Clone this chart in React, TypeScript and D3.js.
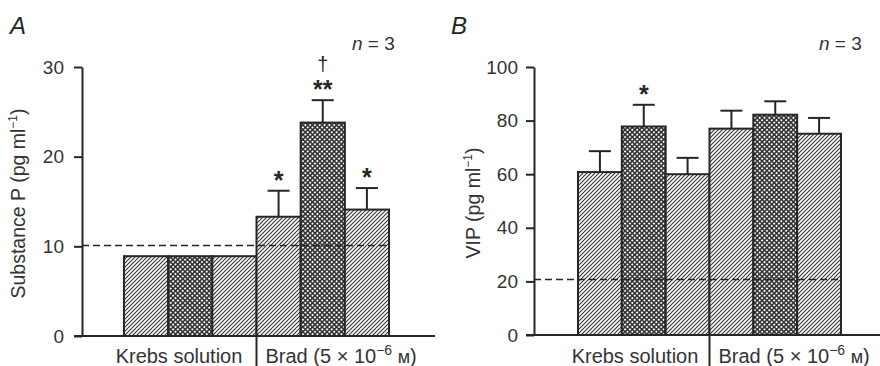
import React, { FC } from 'react';
import * as d3 from 'd3';

// shared categories
const groupLabels = ['Krebs solution', 'Brad'];
const barPatterns = ['hatch', 'check', 'hatch', 'hatch', 'check', 'hatch'];

// panel A: substance P (pg/ml)
const spValues = [8.9, 8.9, 8.9, 13.3, 23.8, 14.1];
const spErrors = [0, 0, 0, 2.9, 2.5, 2.4];
const spStars = ['', '', '', '*', '**', '*'];
const spDaggers = ['', '', '', '', '†', ''];
const spTicks = [0, 10, 20, 30];
const spBaseline = 10.1;

// panel B: VIP (pg/ml)
const vipValues = [60.8, 77.8, 60.0, 77.0, 82.2, 75.1];
const vipErrors = [7.8, 8.1, 6.1, 6.7, 5.0, 5.9];
const vipStars = ['', '*', '', '', '', ''];
const vipDaggers = ['', '', '', '', '', ''];
const vipTicks = [0, 20, 40, 60, 80, 100];
const vipBaseline = 20.7;

const INK = '#262626';
const TXT = '#333';
const FONT = '"Liberation Sans", Arial, sans-serif';

interface PanelCfg {
  letter: string;
  letterX: number;
  axisX: number;
  y0: number;
  yTop: number;
  max: number;
  barsX: [number, number];
  lineX: [number, number];
  values: number[];
  errors: number[];
  stars: string[];
  daggers: string[];
  ticks: number[];
  baseline: number;
  label: string;
  labelX: number;
  nX: number;
  krebsX: number;
  tickPad: number;
  tickSize: number;
}

const drawPanel = (svg: d3.Selection<SVGSVGElement, undefined, null, undefined>, c: PanelCfg) => {
  const g = svg.append('g');
  const idx = d3.range(c.values.length).map(String);

  const x = d3.scaleBand().domain(idx).range(c.barsX).paddingInner(0);
  const y = d3.scaleLinear().domain([0, c.max]).range([c.y0, c.yTop]);

  // bars
  g.append('g')
    .selectAll('rect')
    .data(c.values)
    .join('rect')
    .attr('x', (d, i) => x(String(i))!)
    .attr('y', (d) => y(d))
    .attr('width', x.bandwidth())
    .attr('height', (d) => y(0) - y(d))
    .attr('fill', (d, i) => `url(#${barPatterns[i]})`)
    .attr('stroke', INK)
    .attr('stroke-width', 2);

  // error bars
  const eb = g.append('g').attr('stroke', INK).attr('stroke-width', 2);
  c.values.forEach((v, i) => {
    if (!c.errors[i]) return;
    const cx = x(String(i))! + x.bandwidth() / 2;
    eb.append('line').attr('x1', cx).attr('x2', cx).attr('y1', y(v)).attr('y2', y(v + c.errors[i]));
    eb.append('line').attr('x1', cx - 11).attr('x2', cx + 11)
      .attr('y1', y(v + c.errors[i])).attr('y2', y(v + c.errors[i]));
  });

  // significance marks
  c.values.forEach((v, i) => {
    const cx = x(String(i))! + x.bandwidth() / 2;
    const top = y(v + c.errors[i]);
    if (c.stars[i]) {
      g.append('text').attr('x', cx).attr('y', top - 2).attr('text-anchor', 'middle')
        .attr('font-size', 25).attr('font-weight', 'bold').attr('fill', INK).text(c.stars[i]);
    }
    if (c.daggers[i]) {
      g.append('text').attr('x', cx).attr('y', top - 29).attr('text-anchor', 'middle')
        .attr('font-size', 20).attr('fill', INK).text(c.daggers[i]);
    }
  });

  // dashed control level
  g.append('line')
    .attr('x1', c.lineX[0]).attr('x2', c.lineX[1])
    .attr('y1', y(c.baseline)).attr('y2', y(c.baseline))
    .attr('stroke', INK).attr('stroke-width', 1.6).attr('stroke-dasharray', '7,4');

  // y axis
  g.append('g')
    .attr('transform', `translate(${c.axisX},0)`)
    .call(d3.axisLeft(y).tickValues(c.ticks).tickSize(c.tickSize).tickSizeOuter(0).tickPadding(c.tickPad))
    .call((a) => a.selectAll('path,line').attr('stroke', INK).attr('stroke-width', 2))
    .call((a) => a.selectAll('text').attr('font-size', 19).attr('font-family', FONT).attr('fill', TXT));

  // x baseline + divider
  g.append('line').attr('x1', c.axisX - c.tickSize).attr('x2', c.lineX[1] + 46)
    .attr('y1', c.y0).attr('y2', c.y0).attr('stroke', INK).attr('stroke-width', 2);
  const mid = x('3')!;
  g.append('line').attr('x1', mid).attr('x2', mid).attr('y1', c.y0).attr('y2', 366)
    .attr('stroke', INK).attr('stroke-width', 2);

  // group labels
  const gl = g.append('g').attr('font-size', 20).attr('fill', TXT);
  gl.append('text').attr('x', c.krebsX).attr('y', 363).attr('text-anchor', 'middle').text(groupLabels[0]);
  const brad = gl.append('text').attr('x', mid + 9).attr('y', 363);
  brad.append('tspan').text(`${groupLabels[1]} (5 × 10`);
  brad.append('tspan').attr('font-size', 14).attr('dy', -8).text('−6');
  brad.append('tspan').attr('dy', 8).text(' ');
  brad.append('tspan').attr('font-size', 18).text('м');
  brad.append('tspan').text(')');

  // y label
  const yl = g.append('text')
    .attr('transform', `translate(${c.labelX},${(c.y0 + c.yTop) / 2 + 2}) rotate(-90)`)
    .attr('text-anchor', 'middle').attr('font-size', 19.5).attr('fill', TXT);
  yl.append('tspan').text(`${c.label} (pg ml`);
  yl.append('tspan').attr('font-size', 12).attr('dy', -8).text('−1');
  yl.append('tspan').attr('dy', 8).text(')');

  // panel letter and n
  g.append('text').attr('x', c.letterX).attr('y', 34).attr('font-size', 24)
    .attr('font-style', 'italic').attr('fill', INK).text(c.letter);
  const n = g.append('text').attr('x', c.nX).attr('y', 50).attr('font-size', 19).attr('fill', TXT);
  n.append('tspan').attr('font-style', 'italic').text('n');
  n.append('tspan').text(' = 3');
};

const chart = () => {
  const svg = d3.create('svg').attr('width', 880).attr('height', 366)
    .attr('viewBox', '0 0 880 366')
    .style('position', 'absolute').style('left', '0px').style('top', '0px')
    .style('background', '#fff').attr('font-family', FONT);

  const defs = svg.append('defs');
  const hatch = defs.append('pattern').attr('id', 'hatch').attr('patternUnits', 'userSpaceOnUse')
    .attr('width', 4).attr('height', 4);
  hatch.append('rect').attr('width', 4).attr('height', 4).attr('fill', '#fff');
  hatch.append('path').attr('d', 'M-1,1 L1,-1 M0,4 L4,0 M3,5 L5,3')
    .attr('stroke', '#333').attr('stroke-width', 1.1);
  const check = defs.append('pattern').attr('id', 'check').attr('patternUnits', 'userSpaceOnUse')
    .attr('width', 3.4).attr('height', 3.4).attr('patternTransform', 'rotate(45)');
  check.append('rect').attr('width', 3.4).attr('height', 3.4).attr('fill', '#2e2e2e');
  check.append('circle').attr('cx', 1.7).attr('cy', 1.7).attr('r', 1.05).attr('fill', '#fff');

  drawPanel(svg, {
    letter: 'A', letterX: 10, axisX: 82, y0: 336, yTop: 67, max: 30,
    barsX: [124, 389], lineX: [82, 389],
    values: spValues, errors: spErrors, stars: spStars, daggers: spDaggers,
    ticks: spTicks, baseline: spBaseline, label: 'Substance P', labelX: 25, nX: 352,
    krebsX: 179, tickPad: 10, tickSize: 8,
  });
  drawPanel(svg, {
    letter: 'B', letterX: 451, axisX: 534, y0: 335, yTop: 67, max: 100,
    barsX: [578, 841], lineX: [534, 841],
    values: vipValues, errors: vipErrors, stars: vipStars, daggers: vipDaggers,
    ticks: vipTicks, baseline: vipBaseline, label: 'VIP', labelX: 480, nX: 819,
    krebsX: 635, tickPad: 8, tickSize: 8,
  });

  return svg.node();
};

const App: FC = () => {
  return (
    <div
      ref={(elem) => {
        if (!elem) {
          return;
        }
        const svg = chart();
        if (!svg) {
          return;
        }
        elem.innerHTML = '';
        elem.appendChild(svg);
      }}
    />
  );
};

export default App;
